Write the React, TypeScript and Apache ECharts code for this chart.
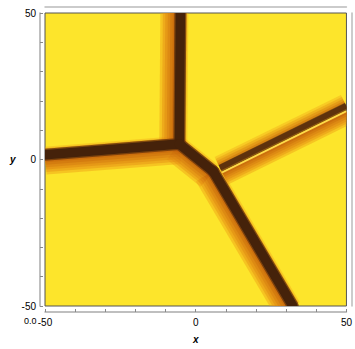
import React, { useEffect, useRef } from "react";
import * as echarts from "echarts";

// Geometry of the dark ridges (data coordinates)
const topEnd = [-5.1, 50];
const leftEnd = [-50, 1.65];
const junctionA = [-5.45, 5.3];
const junctionB = [5.8, -4.0];
const bottomEnd = [32.2, -50];
const rightStart = [8.1, -3.0];
const rightEnd = [50, 18.2];

const segments = [
  [topEnd, junctionA],
  [leftEnd, junctionA],
  [junctionA, junctionB],
  [junctionB, bottomEnd],
  [rightStart, rightEnd],
];

const axisMin = -50;
const axisMax = 50;
const tickStep = 10;
const labelledTicks = [-50, 0, 50];

// styles (pixel space)
const haloHints = [
  [-1, 0],
  [0, 1],
  [-1, 1],
  [-1, 0.5],
  [0, 1],
];

// graded glow: stacked bands all starting at the core edge
function glow(edge: number, dir: number, maxW: number, n: number, alpha: number) {
  const out: any[] = [];
  for (let i = 0; i < n; i++) {
    const w = maxW * (1 - i / n);
    const t = i / (n - 1);
    const r = Math.round(238 - 45 * t);
    const g = Math.round(155 - 60 * t);
    const b = Math.round(22 - 12 * t);
    out.push({ off: dir * (edge + w / 2), w, color: `rgba(${r},${g},${b},${alpha})`, z: 1 + i * 0.1, cap: "butt" });
  }
  return out;
}

const mainLayers = [
  ...glow(5, 1, 15, 6, 0.45),
  ...glow(5, -1, 3, 2, 0.35),
  { off: 0, w: 12, color: "rgba(110,55,12,0.85)", z: 5, cap: "round" },
  { off: 0, w: 9.5, color: "#45220a", z: 6, cap: "round" },
];
const thinLayers = [
  ...glow(3.5, -1, 9, 4, 0.35),
  ...glow(5, 1, 13, 6, 0.45),
  { off: 0, w: 7.5, color: "rgba(120,62,14,0.85)", z: 5, cap: "butt" },
  { off: -0.5, w: 5.5, color: "#5e320d", z: 6, cap: "butt" },
  { off: 4.6, w: 1.6, color: "rgba(255,220,80,0.9)", z: 7, cap: "butt" },
];
const segLayers = [mainLayers, mainLayers, mainLayers, mainLayers, thinLayers];

export default function App() {
  const ref = useRef<HTMLDivElement>(null);
  useEffect(() => {
    if (!ref.current) return;
    const chart = echarts.init(ref.current, null, { renderer: "svg" });
    const data = segments.map((s, i) => [s[0][0], s[0][1], s[1][0], s[1][1], i]);
    const font = "Liberation Sans";
    const labelFmt = (v: number) => (labelledTicks.includes(v) ? String(v) : "");
    const frameLine = { onZero: false, lineStyle: { color: "#aaaaaa", width: 1.5 } };
    chart.setOption({
      animation: false,
      backgroundColor: "#ffffff",
      grid: {
        left: 45,
        top: 13,
        right: 7,
        bottom: 34,
        show: true,
        backgroundColor: "#fde52b",
        borderColor: "#555",
        borderWidth: 1,
      },
      xAxis: [
        {
          type: "value",
          min: axisMin,
          max: axisMax,
          interval: tickStep,
          position: "bottom",
          offset: 6,
          name: "x",
          nameLocation: "middle",
          nameGap: 22,
          nameTextStyle: { fontFamily: font, fontSize: 10, fontStyle: "italic", fontWeight: "bold", color: "#000" },
          axisLine: frameLine,
          axisTick: { inside: true, length: 3, lineStyle: { color: "#888" } },
          axisLabel: { formatter: labelFmt, margin: 5, fontFamily: font, fontSize: 10, color: "#000" },
          splitLine: { show: false },
        },
        {
          type: "value",
          min: axisMin,
          max: axisMax,
          position: "top",
          offset: 6,
          axisLine: { onZero: false, lineStyle: { color: "#bbbbbb", width: 1.5 } },
          axisTick: { show: false },
          axisLabel: { show: false },
          splitLine: { show: false },
        },
      ],
      yAxis: [
        {
          type: "value",
          min: axisMin,
          max: axisMax,
          interval: tickStep,
          position: "left",
          offset: 5,
          name: "y",
          nameLocation: "middle",
          nameRotate: 0,
          nameGap: 22,
          nameTextStyle: { fontFamily: font, fontSize: 10, fontStyle: "italic", fontWeight: "bold", color: "#000" },
          axisLine: frameLine,
          axisTick: { inside: true, length: 3, lineStyle: { color: "#888" } },
          axisLabel: { formatter: labelFmt, margin: 4, fontFamily: font, fontSize: 10, color: "#000" },
          splitLine: { show: false },
        },
        {
          type: "value",
          min: axisMin,
          max: axisMax,
          position: "right",
          offset: 5,
          axisLine: { onZero: false, lineStyle: { color: "#bbbbbb", width: 1.5 } },
          axisTick: { show: false },
          axisLabel: { show: false },
          splitLine: { show: false },
        },
      ],
      graphic: [
        {
          type: "text",
          left: 24,
          top: 316,
          style: { text: "0.0", fontFamily: font, fontSize: 9, fill: "#000" },
        },
      ],
      series: [
        {
          type: "custom",
          xAxisIndex: 0,
          yAxisIndex: 0,
          clip: true,
          encode: { x: [0, 2], y: [1, 3] },
          data,
          renderItem: (params: any, api: any) => {
            const idx = api.value(4);
            const p1 = api.coord([api.value(0), api.value(1)]);
            const p2 = api.coord([api.value(2), api.value(3)]);
            const dx = p2[0] - p1[0];
            const dy = p2[1] - p1[1];
            const len = Math.sqrt(dx * dx + dy * dy) || 1;
            let nx = -dy / len;
            let ny = dx / len;
            const h = haloHints[idx];
            if (nx * h[0] + ny * h[1] < 0) {
              nx = -nx;
              ny = -ny;
            }
            const cs = params.coordSys;
            const children = segLayers[idx].map((l) => ({
              type: "line",
              z2: l.z,
              shape: {
                x1: p1[0] + nx * l.off,
                y1: p1[1] + ny * l.off,
                x2: p2[0] + nx * l.off,
                y2: p2[1] + ny * l.off,
              },
              style: { stroke: l.color, lineWidth: l.w, lineCap: l.cap, fill: null },
            }));
            return {
              type: "group",
              children,
              clipPath: { type: "rect", shape: { x: cs.x, y: cs.y, width: cs.width, height: cs.height } },
            };
          },
        },
      ],
    });
    return () => chart.dispose();
  }, []);
  return <div ref={ref} style={{ position: "absolute", left: 0, top: 0, width: 355, height: 349 }} />;
}
